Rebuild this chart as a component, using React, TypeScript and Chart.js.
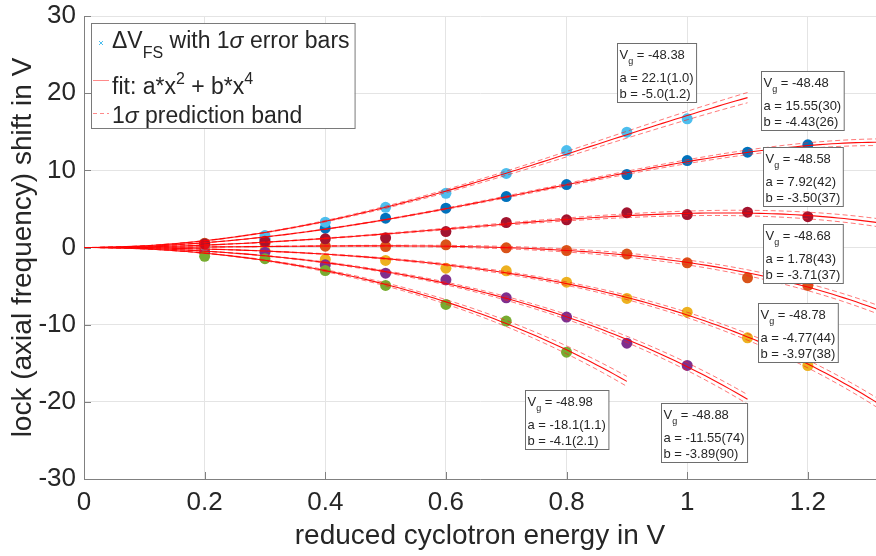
import React, { useEffect, useRef } from "react";
import { Chart, registerables } from "chart.js";

Chart.register(...registerables);

const FONT = '"Liberation Sans", Arial, Helvetica, sans-serif';
const TEXT = "#262626";

// reduced cyclotron energy in V
const energies = [0.2, 0.3, 0.4, 0.5, 0.6, 0.7, 0.8, 0.9, 1.0, 1.1, 1.2];

// gate voltages (series names)
const vgLabels = ["-48.38", "-48.48", "-48.58", "-48.68", "-48.78", "-48.88", "-48.98"];

// measured shifts (V), one array per Vg
const shift4838 = [0.25, 1.55, 3.28, 5.2, 7.03, 9.6, 12.56, 14.94, 16.67];
const shift4848 = [0.5, 1.1, 2.5, 3.8, 5.1, 6.6, 8.16, 9.46, 11.27, 12.35, 13.3];
const shift4858 = [0.45, 0.8, 1.12, 1.25, 2.07, 3.24, 3.58, 4.49, 4.27, 4.58, 4.0];
const shift4868 = [0.55, 0.55, 0.17, 0.13, 0.35, -0.04, -0.39, -0.85, -1.98, -3.93, -4.92];
const shift4878 = [-0.2, -0.4, -1.55, -1.68, -2.68, -3.02, -4.49, -6.6, -8.38, -11.7, -15.3];
const shift4888 = [-0.6, -0.6, -2.25, -3.33, -4.19, -6.52, -9.02, -12.4, -15.28];
const shift4898 = [-1.15, -1.45, -2.98, -4.92, -7.38, -9.54, -13.56];
const shifts = [shift4838, shift4848, shift4858, shift4868, shift4878, shift4888, shift4898];

const seriesColors = ["#4DBEEE", "#0072BD", "#A2142F", "#D95319", "#EDB120", "#7E2F8E", "#77AC30"];
const drawRank = [5, 0, 6, 1, 2, 3, 4];

// fit parameters a*x^2 + b*x^4
const fitA = [22.1, 15.55, 7.92, 1.78, -4.77, -11.55, -18.1];
const fitB = [-5.0, -4.43, -3.5, -3.71, -3.97, -3.89, -4.1];
const fitAText = ["22.1(1.0)", "15.55(30)", "7.92(42)", "1.78(43)", "-4.77(44)", "-11.55(74)", "-18.1(1.1)"];
const fitBText = ["-5.0(1.2)", "-4.43(26)", "-3.50(37)", "-3.71(37)", "-3.97(38)", "-3.89(90)", "-4.1(2.1)"];
const fitEnd = [1.1, 1.4, 1.4, 1.4, 1.4, 1.1, 0.9];
const bandAt1 = [0.55, 0.25, 0.3, 0.32, 0.35, 0.5, 0.8];

// annotation box anchors (top-left, data units)
const boxX = [0.883, 1.122, 1.126, 1.126, 1.118, 0.957, 0.731];
const boxY = [26.5, 22.9, 13.0, 3.07, -7.19, -20.2, -18.5];

const xTickLabels = ["0", "0.2", "0.4", "0.6", "0.8", "1", "1.2"];
const yTickLabels = ["-30", "-20", "-10", "0", "10", "20", "30"];

type Part = { t: string; size: number; dy?: number; italic?: boolean };

function drawParts(ctx: CanvasRenderingContext2D, x: number, y: number, parts: Part[], draw = true) {
  let cx = x;
  for (const p of parts) {
    ctx.font = `${p.italic ? "italic " : ""}${p.size}px ${FONT}`;
    if (draw) ctx.fillText(p.t, cx, y + (p.dy || 0));
    cx += ctx.measureText(p.t).width;
  }
  return cx - x;
}

const overlayPlugin = {
  id: "overlay",
  afterDraw(chart: any) {
    const ctx: CanvasRenderingContext2D = chart.ctx;
    const xs = chart.scales.x;
    const ys = chart.scales.y;
    const area = chart.chartArea;
    ctx.save();
    // inward tick marks
    ctx.strokeStyle = "#808080";
    ctx.lineWidth = 1;
    ctx.beginPath();
    xs.ticks.forEach((t: any) => {
      const px = Math.round(xs.getPixelForValue(t.value)) + 0.5;
      ctx.moveTo(px, area.bottom);
      ctx.lineTo(px, area.bottom - 7);
    });
    ys.ticks.forEach((t: any) => {
      const py = Math.round(ys.getPixelForValue(t.value)) + 0.5;
      ctx.moveTo(area.left, py);
      ctx.lineTo(area.left + 7, py);
    });
    ctx.stroke();

    // annotation boxes
    ctx.textBaseline = "alphabetic";
    ctx.textAlign = "left";
    for (let i = 0; i < vgLabels.length; i++) {
      const left = Math.round(xs.getPixelForValue(boxX[i])) + 0.5;
      const top = Math.round(ys.getPixelForValue(boxY[i])) + 0.5;
      const l1: Part[] = [
        { t: "V", size: 13 },
        { t: "g", size: 9, dy: 5 },
        { t: " = " + vgLabels[i], size: 13 },
      ];
      const l2: Part[] = [{ t: "a = " + fitAText[i], size: 13 }];
      const l3: Part[] = [{ t: "b = " + fitBText[i], size: 13 }];
      const w = Math.max(drawParts(ctx, 0, 0, l1, false), drawParts(ctx, 0, 0, l2, false), drawParts(ctx, 0, 0, l3, false)) + 5;
      const h = 59;
      ctx.fillStyle = "#ffffff";
      ctx.fillRect(left, top, w, h);
      ctx.strokeStyle = "#6e6e6e";
      ctx.strokeRect(left, top, w, h);
      ctx.fillStyle = TEXT;
      drawParts(ctx, left + 2, top + 15, l1);
      drawParts(ctx, left + 2, top + 38.5, l2);
      drawParts(ctx, left + 2, top + 54.5, l3);
    }

    // legend
    const lx = area.left + 7;
    const ly = area.top + 7;
    const tx = lx + 21;
    const row1: Part[] = [
      { t: "\u0394V", size: 23 },
      { t: "FS", size: 16, dy: 10 },
      { t: " with 1", size: 23 },
      { t: "\u03c3", size: 23, italic: true },
      { t: " error bars", size: 23 },
    ];
    const row2: Part[] = [
      { t: "fit: a*x", size: 23 },
      { t: "2", size: 16, dy: -10 },
      { t: " + b*x", size: 23 },
      { t: "4", size: 16, dy: -10 },
    ];
    const row3: Part[] = [
      { t: "1", size: 23 },
      { t: "\u03c3", size: 23, italic: true },
      { t: " prediction band", size: 23 },
    ];
    const lw = 21 + Math.max(drawParts(ctx, 0, 0, row1, false), drawParts(ctx, 0, 0, row2, false), drawParts(ctx, 0, 0, row3, false)) + 5;
    const lh = 105;
    ctx.fillStyle = "#ffffff";
    ctx.fillRect(lx, ly, lw, lh);
    ctx.strokeStyle = "#7a7a7a";
    ctx.strokeRect(Math.round(lx) + 0.5, Math.round(ly) + 0.5, lw, lh);
    ctx.fillStyle = TEXT;
    drawParts(ctx, tx, ly + 24.5, row1);
    drawParts(ctx, tx, ly + 70.5, row2);
    drawParts(ctx, tx, ly + 99.5, row3);
    // legend symbols
    ctx.strokeStyle = seriesColors[0];
    ctx.lineWidth = 1;
    ctx.beginPath();
    const mx = lx + 10, my = ly + 20;
    ctx.moveTo(mx - 2, my - 2); ctx.lineTo(mx + 2, my + 2);
    ctx.moveTo(mx + 2, my - 2); ctx.lineTo(mx - 2, my + 2);
    ctx.stroke();
    ctx.strokeStyle = "rgba(255,60,60,0.6)";
    ctx.beginPath();
    ctx.moveTo(lx + 2, ly + 57.5); ctx.lineTo(lx + 18, ly + 57.5);
    ctx.stroke();
    ctx.setLineDash([4, 3]);
    ctx.beginPath();
    ctx.moveTo(lx + 2, ly + 90.5); ctx.lineTo(lx + 18, ly + 90.5);
    ctx.stroke();
    ctx.restore();
  },
};

function buildDatasets() {
  const ds: any[] = [];
  for (let i = 0; i < vgLabels.length; i++) {
    const fit: { x: number; y: number }[] = [];
    const up: { x: number; y: number }[] = [];
    const lo: { x: number; y: number }[] = [];
    const n = Math.round(fitEnd[i] / 0.01);
    for (let k = 0; k <= n; k++) {
      const x = k * 0.01;
      const y = fitA[i] * x * x + fitB[i] * x * x * x * x;
      const w = bandAt1[i] * x * x;
      fit.push({ x, y });
      up.push({ x, y: y + w });
      lo.push({ x, y: y - w });
    }
    const lineBase = { showLine: true, pointRadius: 0, borderWidth: 1, fill: false, tension: 0, order: 0 };
    ds.push({ ...lineBase, label: "fit " + vgLabels[i], data: fit, borderColor: "rgba(255,0,0,0.95)", borderWidth: 1.1 });
    ds.push({ ...lineBase, label: "band+ " + vgLabels[i], data: up, borderColor: "rgba(255,30,30,0.6)", borderDash: [5, 3] });
    ds.push({ ...lineBase, label: "band- " + vgLabels[i], data: lo, borderColor: "rgba(255,30,30,0.6)", borderDash: [5, 3] });
  }
  for (let i = 0; i < vgLabels.length; i++) {
    ds.push({
      label: "Vg " + vgLabels[i],
      data: shifts[i].map((y, k) => ({ x: energies[k], y })),
      showLine: false,
      pointRadius: 5.5,
      pointBorderWidth: 0,
      pointBackgroundColor: seriesColors[i],
      pointBorderColor: seriesColors[i],
      order: 20 - drawRank[i],
    });
  }
  return ds;
}

export default function App() {
  const ref = useRef<HTMLCanvasElement>(null);
  useEffect(() => {
    document.body.style.margin = "0";
    const canvas = ref.current;
    if (!canvas) return;
    const chart = new Chart(canvas, {
      type: "scatter",
      data: { datasets: buildDatasets() },
      options: {
        animation: false,
        responsive: false,
        maintainAspectRatio: false,
        layout: { autoPadding: false, padding: { top: 16, right: 0, left: 0, bottom: 0 } },
        plugins: { legend: { display: false }, tooltip: { enabled: false } },
        scales: {
          x: {
            type: "linear",
            min: 0,
            max: 1.313,
            ticks: {
              stepSize: 0.2,
              includeBounds: false,
              autoSkip: false,
              maxRotation: 0,
              padding: 8,
              color: TEXT,
              font: { family: FONT, size: 26 },
              callback: (v: any, idx: number) => xTickLabels[idx] ?? String(v),
            },
            grid: { color: "#e4e4e4", drawTicks: false },
            border: { color: "#808080" },
            title: {
              display: true,
              text: "reduced cyclotron energy in V",
              color: TEXT,
              font: { family: FONT, size: 28 },
              padding: { top: 0, bottom: 3 },
            },
            afterFit: (s: any) => {
              s.height = 77;
              s.paddingLeft = 0;
              s.paddingRight = 0;
            },
          },
          y: {
            type: "linear",
            min: -30,
            max: 30,
            ticks: {
              stepSize: 10,
              padding: 8,
              color: TEXT,
              font: { family: FONT, size: 26 },
              callback: (v: any, idx: number) => yTickLabels[idx] ?? String(v),
            },
            grid: { color: "#e4e4e4", drawTicks: false },
            border: { color: "#808080" },
            title: {
              display: true,
              text: "lock (axial frequency) shift in V",
              color: TEXT,
              font: { family: FONT, size: 28 },
              padding: { top: 6, bottom: 0 },
            },
            afterFit: (s: any) => {
              s.width = 84;
              s.paddingTop = 0;
              s.paddingBottom = 0;
              s.paddingLeft = 0;
              s.paddingRight = 0;
            },
          },
        },
      },
      plugins: [overlayPlugin],
    });
    return () => chart.destroy();
  }, []);
  return (
    <div style={{ width: 876, height: 556 }}>
      <canvas ref={ref} width={876} height={556} style={{ display: "block" }} />
    </div>
  );
}
